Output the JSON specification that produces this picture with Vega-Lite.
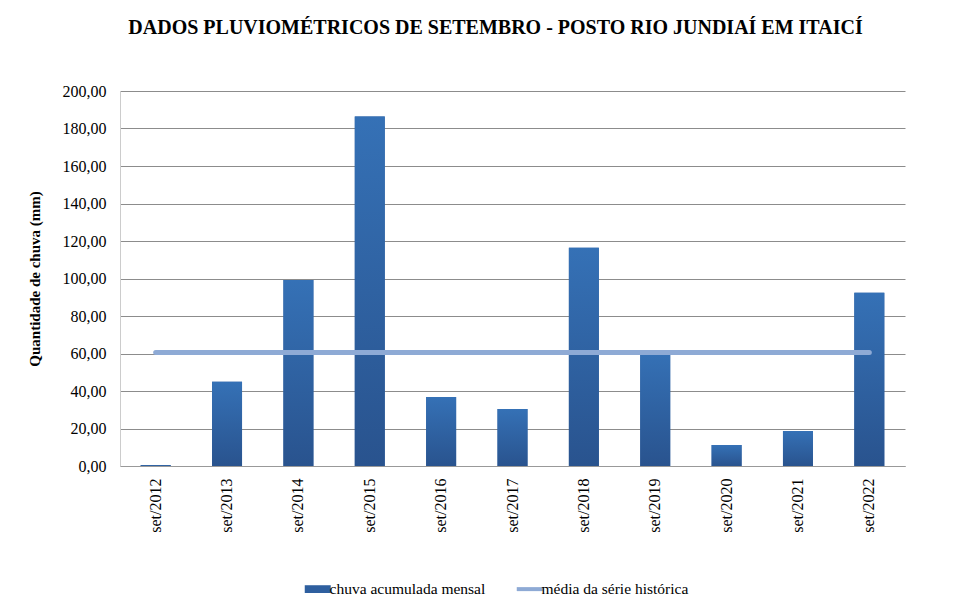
{
  "$schema": "https://vega.github.io/schema/vega-lite/v6.json",
  "autosize": "none",
  "width": 785,
  "height": 375,
  "padding": {"left": 120, "top": 91, "right": 59, "bottom": 140},
  "background": "white",
  "title": {
    "text": "DADOS PLUVIOMÉTRICOS  DE SETEMBRO - POSTO RIO JUNDIAÍ EM ITAICÍ",
    "font": "Liberation Serif",
    "fontSize": 20,
    "fontWeight": "bold",
    "color": "#000000",
    "anchor": "middle",
    "dx": -17,
    "offset": 45
  },
  "data": {
    "values": [
      {"mes": "set/2012", "chuva": 0.5, "media": 60.5},
      {"mes": "set/2013", "chuva": 45.0, "media": 60.5},
      {"mes": "set/2014", "chuva": 99.2, "media": 60.5},
      {"mes": "set/2015", "chuva": 186.4, "media": 60.5},
      {"mes": "set/2016", "chuva": 36.8, "media": 60.5},
      {"mes": "set/2017", "chuva": 30.4, "media": 60.5},
      {"mes": "set/2018", "chuva": 116.4, "media": 60.5},
      {"mes": "set/2019", "chuva": 61.0, "media": 60.5},
      {"mes": "set/2020", "chuva": 11.2, "media": 60.5},
      {"mes": "set/2021", "chuva": 18.7, "media": 60.5},
      {"mes": "set/2022", "chuva": 92.4, "media": 60.5}
    ]
  },
  "encoding": {
    "x": {
      "field": "mes",
      "type": "nominal",
      "sort": null,
      "scale": {"paddingInner": 0.58, "paddingOuter": 0.29},
      "axis": {
        "title": null,
        "labelAngle": -90,
        "labelFont": "Liberation Serif",
        "labelFontSize": 16,
        "labelColor": "#000000",
        "labelPadding": 12,
        "labelOverlap": false,
        "ticks": false,
        "domainColor": "#999999",
        "grid": false
      }
    }
  },
  "layer": [
    {
      "mark": {"type": "bar"},
      "encoding": {
        "y": {
          "field": "chuva",
          "type": "quantitative",
          "scale": {"domain": [0, 200], "nice": false},
          "axis": {
            "title": "Quantidade  de chuva (mm)",
            "titleFont": "Liberation Serif",
            "titleFontSize": 15,
            "titleFontWeight": "bold",
            "titleColor": "#000000",
            "titlePadding": 20,
            "values": [0, 20, 40, 60, 80, 100, 120, 140, 160, 180, 200],
            "labelOverlap": false,
            "labelExpr": "replace(format(datum.value, '.2f'), '.', ',')",
            "labelFont": "Liberation Serif",
            "labelFontSize": 16,
            "labelColor": "#000000",
            "labelPadding": 14,
            "ticks": false,
            "domainColor": "#cccccc",
            "gridColor": "#8c8c8c",
            "gridWidth": 1
          }
        },
        "color": {
          "datum": "chuva acumulada mensal",
          "type": "nominal",
          "scale": {
            "domain": ["chuva acumulada mensal", "média da série histórica"],
            "range": ["#2e5f9f", "#8eaad5"]
          },
          "legend": {
            "title": null,
            "orient": "none",
            "legendX": 190,
            "legendY": 490,
            "direction": "horizontal",
            "labelFont": "Liberation Serif",
            "labelFontSize": 15.5,
            "labelColor": "#000000",
            "columnPadding": 22,
            "symbolSize": 676,
            "labelOffset": 4,
            "encode": {
              "symbols": {
                "update": {
                  "shape": {"signal": "datum.label == 'chuva acumulada mensal' ? 'M-1,-0.3H1V0.3H-1Z' : 'stroke'"},
                  "strokeWidth": {"signal": "datum.label == 'chuva acumulada mensal' ? 0 : 4"},
                  "stroke": {"signal": "datum.label == 'chuva acumulada mensal' ? null : '#8eaad5'"}
                }
              }
            }
          }
        }
      }
    },
    {
      "mark": {
        "type": "bar",
        "color": {"gradient": "linear", "x1": 0, "y1": 0, "x2": 0, "y2": 1, "stops": [{"offset": 0, "color": "#3571b6"}, {"offset": 1, "color": "#29538e"}]}
      },
      "encoding": {
        "y": {
          "field": "chuva",
          "type": "quantitative",
          "axis": {
            "title": "Quantidade  de chuva (mm)",
            "titleFont": "Liberation Serif",
            "titleFontSize": 15,
            "titleFontWeight": "bold",
            "titleColor": "#000000",
            "titlePadding": 20,
            "values": [0, 20, 40, 60, 80, 100, 120, 140, 160, 180, 200],
            "labelOverlap": false,
            "labelExpr": "replace(format(datum.value, '.2f'), '.', ',')",
            "labelFont": "Liberation Serif",
            "labelFontSize": 16,
            "labelColor": "#000000",
            "labelPadding": 14,
            "ticks": false,
            "domainColor": "#cccccc",
            "gridColor": "#8c8c8c",
            "gridWidth": 1
          }
        }
      }
    },
    {
      "mark": {"type": "line", "strokeWidth": 5, "strokeCap": "round"},
      "encoding": {
        "y": {
          "field": "media",
          "type": "quantitative",
          "axis": {
            "title": "Quantidade  de chuva (mm)",
            "titleFont": "Liberation Serif",
            "titleFontSize": 15,
            "titleFontWeight": "bold",
            "titleColor": "#000000",
            "titlePadding": 20,
            "values": [0, 20, 40, 60, 80, 100, 120, 140, 160, 180, 200],
            "labelOverlap": false,
            "labelExpr": "replace(format(datum.value, '.2f'), '.', ',')",
            "labelFont": "Liberation Serif",
            "labelFontSize": 16,
            "labelColor": "#000000",
            "labelPadding": 14,
            "ticks": false,
            "domainColor": "#cccccc",
            "gridColor": "#8c8c8c",
            "gridWidth": 1
          }
        },
        "color": {"datum": "média da série histórica", "type": "nominal"}
      }
    }
  ],
  "config": {
    "view": {"stroke": null},
    "axis": {"labelFont": "Liberation Serif"}
  }
}
